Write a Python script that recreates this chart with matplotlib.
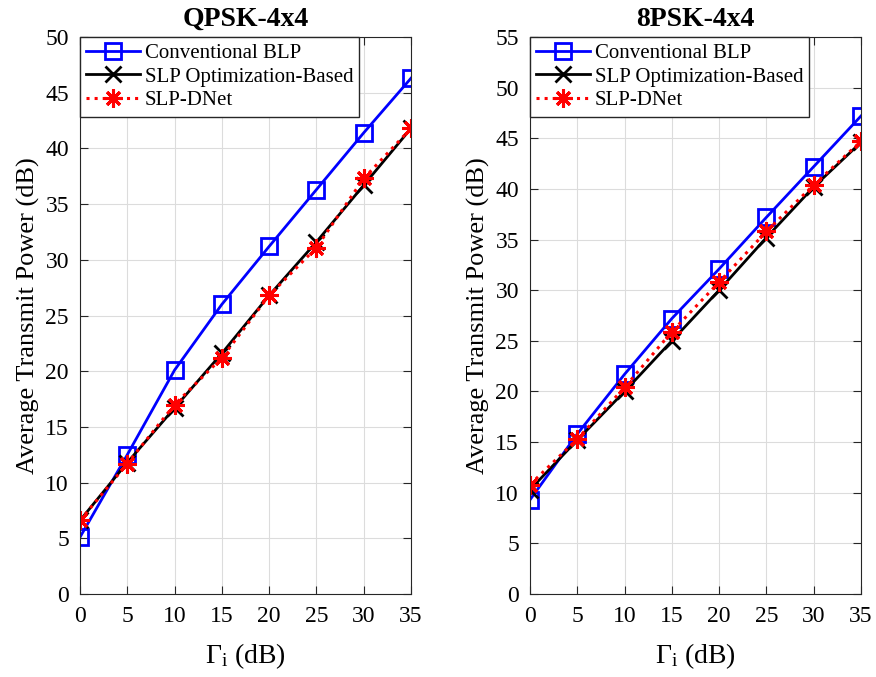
import matplotlib
matplotlib.use('Agg')
import matplotlib.pyplot as plt
import numpy as np

plt.rcParams['font.family'] = ['Liberation Serif', 'DejaVu Serif']
plt.rcParams['mathtext.fontset'] = 'custom'
plt.rcParams['mathtext.rm'] = 'Liberation Serif'
plt.rcParams['mathtext.it'] = 'Liberation Serif'

# dados
gamma = [0, 5, 10, 15, 20, 25, 30, 35]

qpsk_blp = [5.1, 12.5, 20.1, 26.0, 31.2, 36.3, 41.4, 46.3]
qpsk_slp = [6.6, 11.8, 16.7, 21.6, 26.8, 31.6, 36.7, 41.8]
qpsk_dnet = [6.6, 11.7, 17.0, 21.2, 26.8, 31.1, 37.3, 41.8]

psk8_blp = [9.3, 15.8, 21.7, 27.2, 32.1, 37.2, 42.2, 47.2]
psk8_slp = [10.3, 15.2, 20.0, 25.0, 30.0, 35.2, 40.2, 44.6]
psk8_dnet = [10.8, 15.3, 20.4, 25.9, 30.8, 35.8, 40.4, 44.7]

titles = ['QPSK-4x4', '8PSK-4x4']
ylims = [50, 55]

fig = plt.figure(figsize=(8.76, 6.77), dpi=100)
ax1 = fig.add_axes([80/876, 83/677, 331/876, 557/677])
ax2 = fig.add_axes([530/876, 83/677, 331/876, 557/677])

dados = [(qpsk_blp, qpsk_slp, qpsk_dnet), (psk8_blp, psk8_slp, psk8_dnet)]

# asterisco estilo matlab (8 pontas)
asterisco = (8, 2, 0)

for ax, (blp, slp, dnet), titulo, ymax in zip([ax1, ax2], dados, titles, ylims):
    ax.plot(gamma, blp, '-s', color='blue', lw=2, ms=11, mfc='none', mew=2,
            label='Conventional BLP')
    ax.plot(gamma, slp, '-x', color='black', lw=2, ms=11, mew=2,
            label='SLP Optimization-Based')
    ax.plot(gamma, dnet, ':', marker=asterisco, color='red', lw=2.2, ms=13,
            mew=2.2, label='SLP-DNet')
    ax.set_xlim(0, 35)
    ax.set_ylim(0, ymax)
    ax.set_xticks(np.arange(0, 36, 5))
    ax.set_yticks(np.arange(0, ymax + 1, 5))
    ax.grid(True, color='#dcdcdc', lw=0.8)
    ax.set_axisbelow(True)
    ax.tick_params(direction='in', top=True, right=True, labelsize=17,
                   length=6, color='#262626')
    ax.tick_params(axis='x', pad=9)
    ax.tick_params(axis='y', pad=8)
    for s in ax.spines.values():
        s.set_color('#262626')
        s.set_linewidth(0.8)
    ax.set_title(titulo, fontsize=20, fontweight='bold', pad=8)
    ax.set_xlabel(r'$\Gamma_{\mathrm{i}}$ (dB)', fontsize=20, labelpad=10)
    ax.set_ylabel('Average Transmit Power (dB)', fontsize=19, labelpad=4)
    ax.legend(loc='upper left', fontsize=15, handlelength=2.6,
              borderaxespad=0.0, borderpad=0.3, labelspacing=0.2,
              handletextpad=0.2, fancybox=False, edgecolor='#262626',
              framealpha=1)

fig.savefig('out.png', dpi=100)
